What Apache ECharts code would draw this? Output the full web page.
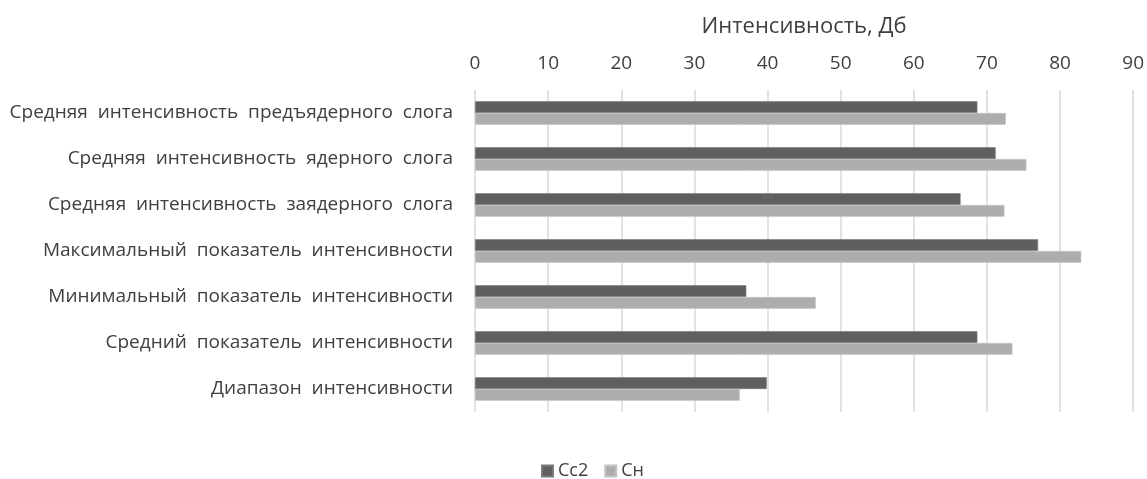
<!DOCTYPE html>
<html>
<head>
<meta charset="utf-8">
<script src="https://cdn.jsdelivr.net/npm/echarts@6/dist/echarts.min.js"></script>
<style>
  html, body { margin: 0; padding: 0; background: #fff; }
  #chart { width: 1147px; height: 479px; }
</style>
</head>
<body>
<div id="chart"></div>
<script>
// Intensity parameters (dB) for two speech samples
const categories = [
  'Средняя  интенсивность  предъядерного  слога',
  'Средняя  интенсивность  ядерного  слога',
  'Средняя  интенсивность  заядерного  слога',
  'Максимальный  показатель  интенсивности',
  'Минимальный  показатель  интенсивности',
  'Средний  показатель  интенсивности',
  'Диапазон  интенсивности'
];
const seriesNames = ['Сс2', 'Сн'];
const valuesCc2 = [68.7, 71.2, 66.4, 77.0, 37.1, 68.7, 39.9];
const valuesCn  = [72.6, 75.4, 72.4, 82.9, 46.6, 73.5, 36.2];
const axisTitle = 'Интенсивность, Дб';

const font = 'Open Sans, Noto Sans, sans-serif';
const textColor = '#404040';

const chart = echarts.init(document.getElementById('chart'), null, { renderer: 'canvas' });
chart.setOption({
  animation: false,
  textStyle: { fontFamily: font },
  grid: { left: 475, right: 12, top: 90, bottom: 67, containLabel: false },
  legend: {
    top: 457,
    left: 536,
    itemWidth: 11,
    itemHeight: 11,
    itemGap: 16,
    icon: 'rect',
    textStyle: { color: textColor, fontSize: 18, fontFamily: font },
    data: seriesNames
  },
  xAxis: {
    type: 'value',
    position: 'top',
    min: 0,
    max: 90,
    interval: 10,
    name: axisTitle,
    nameLocation: 'middle',
    nameGap: 52,
    nameTextStyle: { color: textColor, fontSize: 22, fontFamily: font },
    axisLine: { show: false },
    axisTick: { show: false },
    axisLabel: { color: textColor, fontSize: 19, margin: 17 },
    splitLine: { show: true, lineStyle: { color: '#d9d9d9', width: 1.5 } }
  },
  yAxis: {
    type: 'category',
    inverse: true,
    data: categories,
    axisLine: { show: false },
    axisTick: { show: false },
    axisLabel: { color: textColor, fontSize: 19, margin: 22 }
  },
  series: [
    {
      name: seriesNames[0],
      type: 'bar',
      data: valuesCc2,
      barGap: '0%',
      barCategoryGap: '49%',
      itemStyle: { color: '#5f5f5f', borderColor: '#7a7a7a', borderWidth: 0.6 }
    },
    {
      name: seriesNames[1],
      type: 'bar',
      data: valuesCn,
      barGap: '0%',
      barCategoryGap: '49%',
      itemStyle: { color: '#adadad', borderColor: '#c4c4c4', borderWidth: 0.6 }
    }
  ]
});
</script>
</body>
</html>
